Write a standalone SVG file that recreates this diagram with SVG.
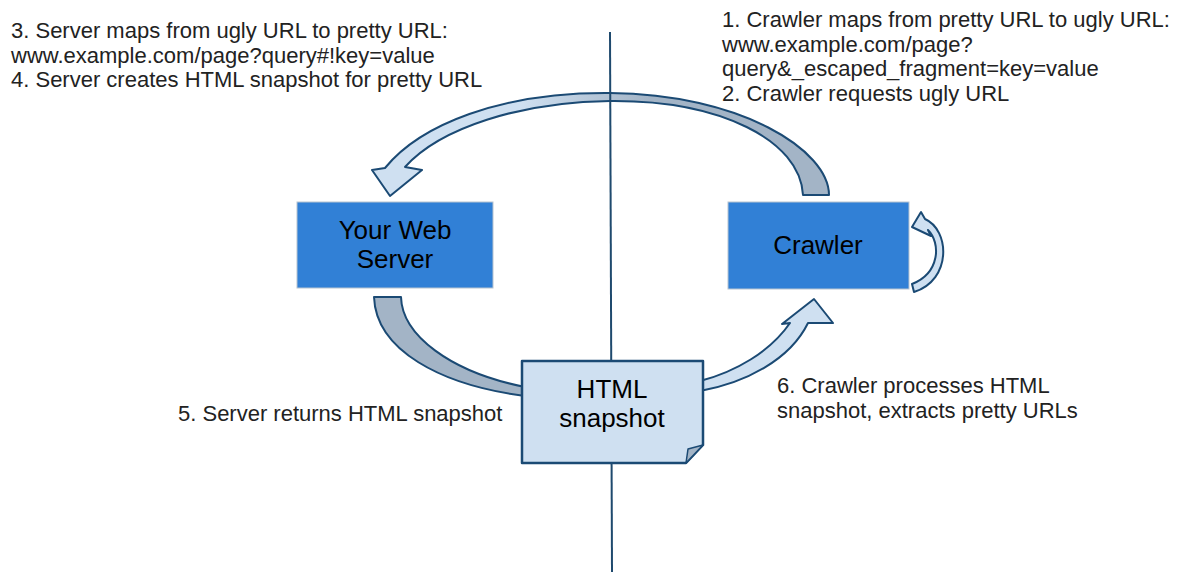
<svg xmlns="http://www.w3.org/2000/svg" width="1193" height="572" viewBox="0 0 1193 572">
<defs>
<linearGradient id="topGrad" gradientUnits="userSpaceOnUse" x1="520" y1="0" x2="650" y2="0">
<stop offset="0" stop-color="#cfe0f1"/>
<stop offset="1" stop-color="#a3b4c6"/>
</linearGradient>
</defs>
<style>
.note{font-family:"Liberation Sans",Arial,sans-serif;font-size:22px;fill:#222}
.lbl{font-family:"Liberation Sans",Arial,sans-serif;font-size:26px;fill:#000;text-anchor:middle}
.box{fill:#3180d6;stroke:#b8c4d0;stroke-width:1}
.arr{stroke:#1b4a74;stroke-width:2;stroke-linejoin:round}
.light{fill:#cfe0f1}
.gray{fill:#a3b4c6}
</style>
<rect width="1193" height="572" fill="#ffffff"/>

<g id="connectors">
<path id="arrow-top" class="arr" fill="url(#topGrad)" d="M 829,195 C 829,150 740,94 610,93 C 500,92 420,125 385,168 L 372,170 L 390,196 L 422,170 L 405,167 C 440,128 520,102 610,101 C 720,100 800,140 803,195 Z"/>
<path id="arrow-return" class="arr gray" d="M 374,297 L 401,297 C 402,335 450,372 525,387 L 525,396 C 440,385 376,350 374,297 Z"/>
<path id="arrow-process" class="arr light" d="M 700,381 C 735,372 770,352 790,323 L 782,324 L 814,299 L 833,323 L 808,323 C 790,360 745,383 700,391 Z"/>
<path id="arrow-loop" class="arr light" d="M 925,219 L 921,212 L 912,227 L 931,236 L 928,230 C 941,243 940,273 912,284 L 914,292 C 952,280 950,230 925,219 Z"/>
<path id="divider" d="M 610,32 L 612,572" stroke="#1f4a6e" stroke-width="2" fill="none"/>
</g>

<g id="server">
<rect class="box" x="297" y="202" width="196" height="86"/>
<text class="lbl" x="395" y="239">Your Web</text>
<text class="lbl" x="395" y="268">Server</text>
</g>

<g id="crawler">
<rect class="box" x="728" y="202" width="181" height="87"/>
<text class="lbl" x="818" y="254">Crawler</text>
</g>

<g id="snapshot">
<path d="M 522,361 L 703,361 L 703,445 L 686,463 L 522,463 Z" fill="#cfe0f1" stroke="#1b4a74" stroke-width="2.5" stroke-linejoin="round"/>
<path d="M 703,445 L 688,449 L 686,463 Z" fill="#a3b4c6" stroke="#1b4a74" stroke-width="1.5" stroke-linejoin="round"/>
<text class="lbl" x="612" y="398">HTML</text>
<text class="lbl" x="612" y="427">snapshot</text>
</g>

<g id="notes-left">
<text class="note" x="11" y="38">3. Server maps from ugly URL to pretty URL:</text>
<text class="note" x="11" y="62.5">www.example.com/page?query#!key=value</text>
<text class="note" x="11" y="87">4. Server creates HTML snapshot for pretty URL</text>
</g>

<g id="notes-right">
<text class="note" x="722" y="27">1. Crawler maps from pretty URL to ugly URL:</text>
<text class="note" x="722" y="51.5">www.example.com/page?</text>
<text class="note" x="722" y="76">query&amp;_escaped_fragment=key=value</text>
<text class="note" x="722" y="100.5">2. Crawler requests ugly URL</text>
</g>

<g id="note-5">
<text class="note" x="178" y="421">5. Server returns HTML snapshot</text>
</g>

<g id="note-6">
<text class="note" x="777" y="393">6. Crawler processes HTML</text>
<text class="note" x="777" y="418">snapshot, extracts pretty URLs</text>
</g>
</svg>
